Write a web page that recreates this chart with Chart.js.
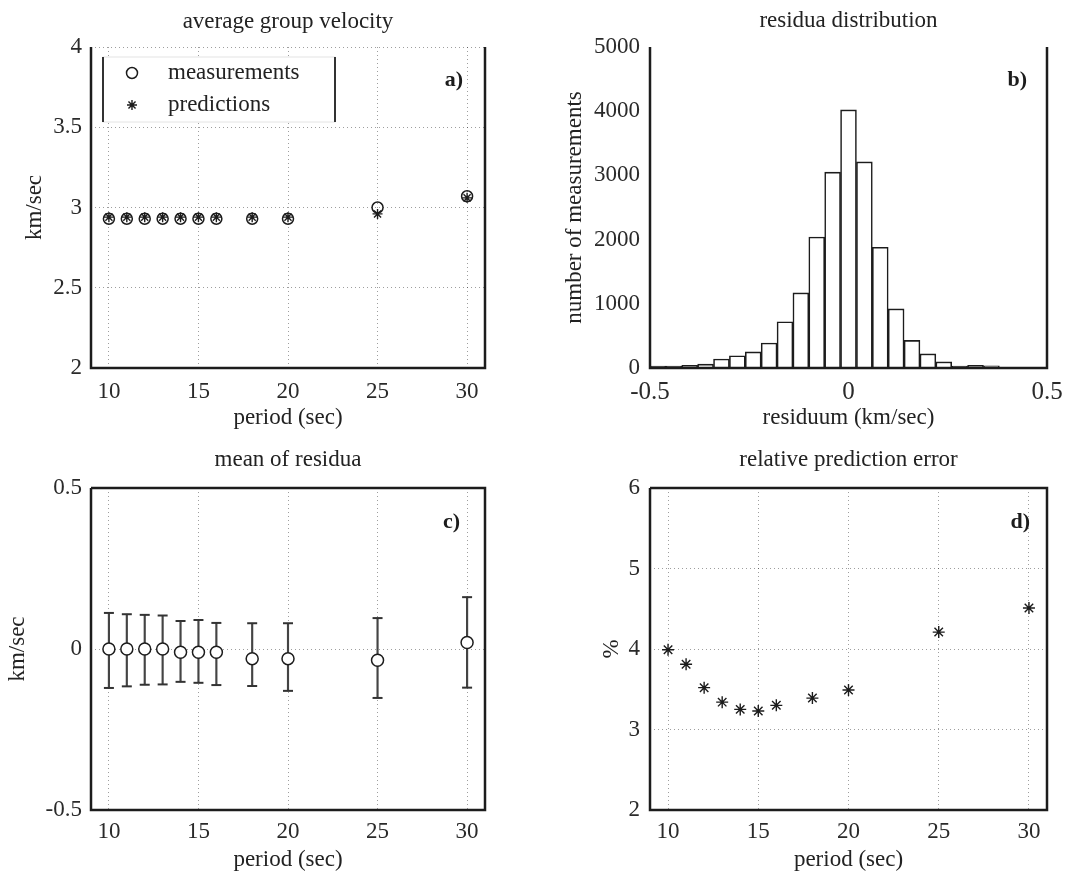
<!DOCTYPE html>
<html>
<head>
<meta charset="utf-8">
<script src="https://cdn.jsdelivr.net/npm/chart.js@4.4.1/dist/chart.umd.min.js"></script>
<style>
  body { margin: 0; background: #fff; width: 1076px; height: 875px; position: relative; overflow: hidden; }
  canvas { position: absolute; }
</style>
</head>
<body>
<canvas id="velocity" width="538" height="445" style="left:0;top:0"></canvas>
<canvas id="histogram" width="538" height="445" style="left:538px;top:0"></canvas>
<canvas id="meanResidua" width="538" height="445" style="left:0;top:430px"></canvas>
<canvas id="relError" width="538" height="445" style="left:538px;top:430px"></canvas>
<script>
// periods shared by the a), c) and d) panels
const periods = [10, 11, 12, 13, 14, 15, 16, 18, 20, 25, 30];
const periodTicks = [10, 15, 20, 25, 30];

// a) average group velocity, km/sec
const velMeasured = [2.93, 2.93, 2.93, 2.93, 2.93, 2.93, 2.93, 2.93, 2.93, 3.00, 3.07];
const velPredicted = [2.94, 2.94, 2.94, 2.94, 2.94, 2.94, 2.94, 2.94, 2.94, 2.96, 3.06];
const velTicks = [2, 2.5, 3, 3.5, 4];

// b) residua histogram, bin centres (km/sec) and counts
const residBins = [-0.48, -0.44, -0.40, -0.36, -0.32, -0.28, -0.24, -0.20, -0.16, -0.12, -0.08, -0.04, 0,
                   0.04, 0.08, 0.12, 0.16, 0.20, 0.24, 0.28, 0.32, 0.36, 0.40, 0.44, 0.48];
const residCounts = [30, 30, 40, 60, 140, 190, 250, 390, 720, 1170, 2040, 3050, 4020,
                     3210, 1880, 920, 430, 220, 95, 30, 40, 35, 10, 5, 0];
const countTicks = [0, 1000, 2000, 3000, 4000, 5000];
const residTicks = [-0.5, 0, 0.5];

// c) mean of residua with error bar ends
const meanResid = [0, 0, 0, 0, -0.01, -0.01, -0.01, -0.03, -0.03, -0.035, 0.02];
const meanHigh = [0.112, 0.108, 0.106, 0.104, 0.087, 0.090, 0.081, 0.080, 0.080, 0.096, 0.161];
const meanLow = [-0.121, -0.116, -0.111, -0.110, -0.102, -0.105, -0.112, -0.115, -0.130, -0.152, -0.120];
const meanTicks = [-0.5, 0, 0.5];

// d) relative prediction error, %
const relError = [3.99, 3.81, 3.52, 3.34, 3.25, 3.23, 3.30, 3.39, 3.49, 4.21, 4.51];
const errTicks = [2, 3, 4, 5, 6];

Chart.defaults.font.family = '"Liberation Serif", "DejaVu Serif", serif';
Chart.defaults.font.size = 23;
Chart.defaults.color = '#2a2a2a';
Chart.defaults.animation = false;
Chart.defaults.responsive = false;
Chart.defaults.devicePixelRatio = 1;
Chart.defaults.plugins.legend.display = false;
Chart.defaults.plugins.tooltip.enabled = false;

const INK = '#1c1c1c';

function axis(o) {
  const horizontal = o.horizontal;
  return {
    type: 'linear',
    min: o.min,
    max: o.max,
    offset: false,
    afterBuildTicks: s => { s.ticks = o.ticks.map(v => ({ value: v })); },
    afterFit: s => { if (horizontal) s.height = o.fit; else s.width = o.fit; },
    grid: { display: o.grid !== false, color: 'rgba(0,0,0,0.38)', lineWidth: 1, drawTicks: false, offset: false },
    border: { display: false, dash: [1, 3] },
    ticks: { padding: o.tickPad, autoSkip: false, maxRotation: 0, callback: v => String(v), font: { size: o.tickSize || 23 } },
    title: {
      display: true, text: o.title, color: '#222',
      padding: horizontal ? { top: 0, bottom: o.titlePad } : { top: o.titlePad, bottom: 0 }
    }
  };
}

// axes box, heading centred over the plot and the panel tag
const frame = {
  id: 'frame',
  afterDraw(chart, args, opts) {
    const { ctx, chartArea: { left, right, top, bottom } } = chart;
    ctx.save();
    ctx.strokeStyle = INK;
    ctx.lineWidth = 2.5;
    ctx.beginPath();
    ctx.moveTo(left, top);
    ctx.lineTo(left, bottom);
    ctx.lineTo(right, bottom);
    ctx.lineTo(right, top);
    if (opts.closed) ctx.lineTo(left, top);
    ctx.stroke();

    ctx.fillStyle = '#222';
    ctx.textAlign = 'center';
    ctx.textBaseline = 'middle';
    ctx.font = '23px "Liberation Serif", serif';
    ctx.fillText(opts.heading, (left + right) / 2, opts.headingY);

    ctx.font = 'bold 22px "Liberation Serif", serif';
    ctx.fillStyle = INK;
    ctx.textAlign = 'right';
    ctx.fillText(opts.tag, right - opts.tagDx, top + opts.tagDy);
    ctx.restore();
  }
};

// boxed legend in the upper left of panel a)
const legendBox = {
  id: 'legendBox',
  afterDatasetsDraw(chart) {
    const { ctx, chartArea: { left, top } } = chart;
    const x0 = left + 12, x1 = left + 244, y0 = top + 10, y1 = top + 75;
    ctx.save();
    ctx.fillStyle = '#fff';
    ctx.fillRect(x0, y0, x1 - x0, y1 - y0);
    ctx.strokeStyle = '#e4e4e4';
    ctx.lineWidth = 1;
    ctx.strokeRect(x0, y0, x1 - x0, y1 - y0);
    ctx.strokeStyle = '#333';
    ctx.lineWidth = 2;
    ctx.beginPath();
    ctx.moveTo(x0, y0); ctx.lineTo(x0, y1);
    ctx.moveTo(x1, y0); ctx.lineTo(x1, y1);
    ctx.stroke();
    chart.data.datasets.forEach((ds, i) => {
      const y = y0 + 16 + i * 32;
      ctx.strokeStyle = ds.borderColor;
      ctx.fillStyle = ds.backgroundColor;
      ctx.lineWidth = ds.borderWidth;
      Chart.helpers.drawPoint(ctx, { pointStyle: ds.pointStyle, radius: ds.pointRadius, borderWidth: ds.borderWidth, rotation: 0 }, left + 41, y);
      ctx.fillStyle = '#222';
      ctx.font = '23px "Liberation Serif", serif';
      ctx.textAlign = 'left';
      ctx.textBaseline = 'middle';
      ctx.fillText(ds.label, left + 77, y);
    });
    ctx.restore();
  }
};

function pts(ys) { return periods.map((x, i) => ({ x, y: ys[i] })); }

// a) average group velocity
new Chart(document.getElementById('velocity'), {
  type: 'scatter',
  data: {
    datasets: [
      { label: 'measurements', data: pts(velMeasured), pointStyle: 'circle', pointRadius: 5.5,
        borderColor: INK, backgroundColor: 'rgba(255,255,255,0)', borderWidth: 1.5, order: 1 },
      { label: 'predictions', data: pts(velPredicted), pointStyle: 'star', pointRadius: 5,
        borderColor: INK, backgroundColor: INK, borderWidth: 1.4, order: 0 }
    ]
  },
  options: {
    layout: { padding: { left: 0, right: 53, top: 47, bottom: 0 } },
    scales: {
      x: axis({ horizontal: true, min: 9, max: 31, ticks: periodTicks, fit: 77, tickPad: 10, title: 'period (sec)', titlePad: 13 }),
      y: axis({ min: 2, max: 4, ticks: velTicks, fit: 91, tickPad: 9, title: 'km/sec', titlePad: 21 })
    },
    plugins: {
      frame: { heading: 'average group velocity', headingY: 22, tag: 'a)', closed: false, tagDx: 22, tagDy: 33 }
    }
  },
  plugins: [legendBox, frame]
});

// b) residua distribution
new Chart(document.getElementById('histogram'), {
  type: 'bar',
  data: {
    datasets: [{
      label: 'residua',
      data: residBins.map((x, i) => ({ x, y: residCounts[i] })),
      backgroundColor: '#fff',
      borderColor: INK,
      borderWidth: 1.6,
      borderSkipped: 'start',
      barPercentage: 1,
      categoryPercentage: 1
    }]
  },
  options: {
    layout: { padding: { left: 0, right: 29, top: 47, bottom: 0 } },
    scales: {
      x: axis({ horizontal: true, min: -0.5, max: 0.5, ticks: residTicks, fit: 77, tickPad: 9, tickSize: 25, title: 'residuum (km/sec)', titlePad: 13, grid: false }),
      y: axis({ min: 0, max: 5000, ticks: countTicks, fit: 112, tickPad: 10, title: 'number of measurements', titlePad: 23, grid: false })
    },
    plugins: {
      frame: { heading: 'residua distribution', headingY: 21, tag: 'b)', closed: false, tagDx: 20, tagDy: 33 }
    }
  },
  plugins: [frame]
});

// c) mean of residua with error bars
new Chart(document.getElementById('meanResidua'), {
  type: 'scatter',
  data: {
    datasets: [
      { type: 'bar', label: 'spread', data: periods.map((x, i) => ({ x, y: [meanLow[i], meanHigh[i]] })),
        backgroundColor: '#444', barThickness: 1.5, grouped: false, order: 3 },
      { label: 'upper', data: pts(meanHigh), pointStyle: 'line', pointRadius: 5,
        borderColor: '#333', borderWidth: 2, order: 2 },
      { label: 'lower', data: pts(meanLow), pointStyle: 'line', pointRadius: 5,
        borderColor: '#333', borderWidth: 2, order: 2 },
      { label: 'mean', data: pts(meanResid), pointStyle: 'circle', pointRadius: 6,
        borderColor: INK, backgroundColor: '#fff', borderWidth: 1.5, order: 1 }
    ]
  },
  options: {
    layout: { padding: { left: 0, right: 53, top: 58, bottom: 0 } },
    scales: {
      x: axis({ horizontal: true, min: 9, max: 31, ticks: periodTicks, fit: 65, tickPad: 8, title: 'period (sec)', titlePad: 1 }),
      y: axis({ min: -0.5, max: 0.5, ticks: meanTicks, fit: 91, tickPad: 9, title: 'km/sec', titlePad: 4 })
    },
    plugins: {
      frame: { heading: 'mean of residua', headingY: 30, tag: 'c)', closed: true, tagDx: 25, tagDy: 34 }
    }
  },
  plugins: [frame]
});

// d) relative prediction error
new Chart(document.getElementById('relError'), {
  type: 'scatter',
  data: {
    datasets: [
      { label: 'relative error', data: pts(relError), pointStyle: 'star', pointRadius: 6,
        borderColor: INK, backgroundColor: INK, borderWidth: 1.4 }
    ]
  },
  options: {
    layout: { padding: { left: 0, right: 29, top: 58, bottom: 0 } },
    scales: {
      x: axis({ horizontal: true, min: 9, max: 31, ticks: periodTicks, fit: 65, tickPad: 8, title: 'period (sec)', titlePad: 1 }),
      y: axis({ min: 2, max: 6, ticks: errTicks, fit: 112, tickPad: 10, title: '%', titlePad: 60 })
    },
    plugins: {
      frame: { heading: 'relative prediction error', headingY: 30, tag: 'd)', closed: true, tagDx: 17, tagDy: 34 }
    }
  },
  plugins: [frame]
});
</script>
</body>
</html>
